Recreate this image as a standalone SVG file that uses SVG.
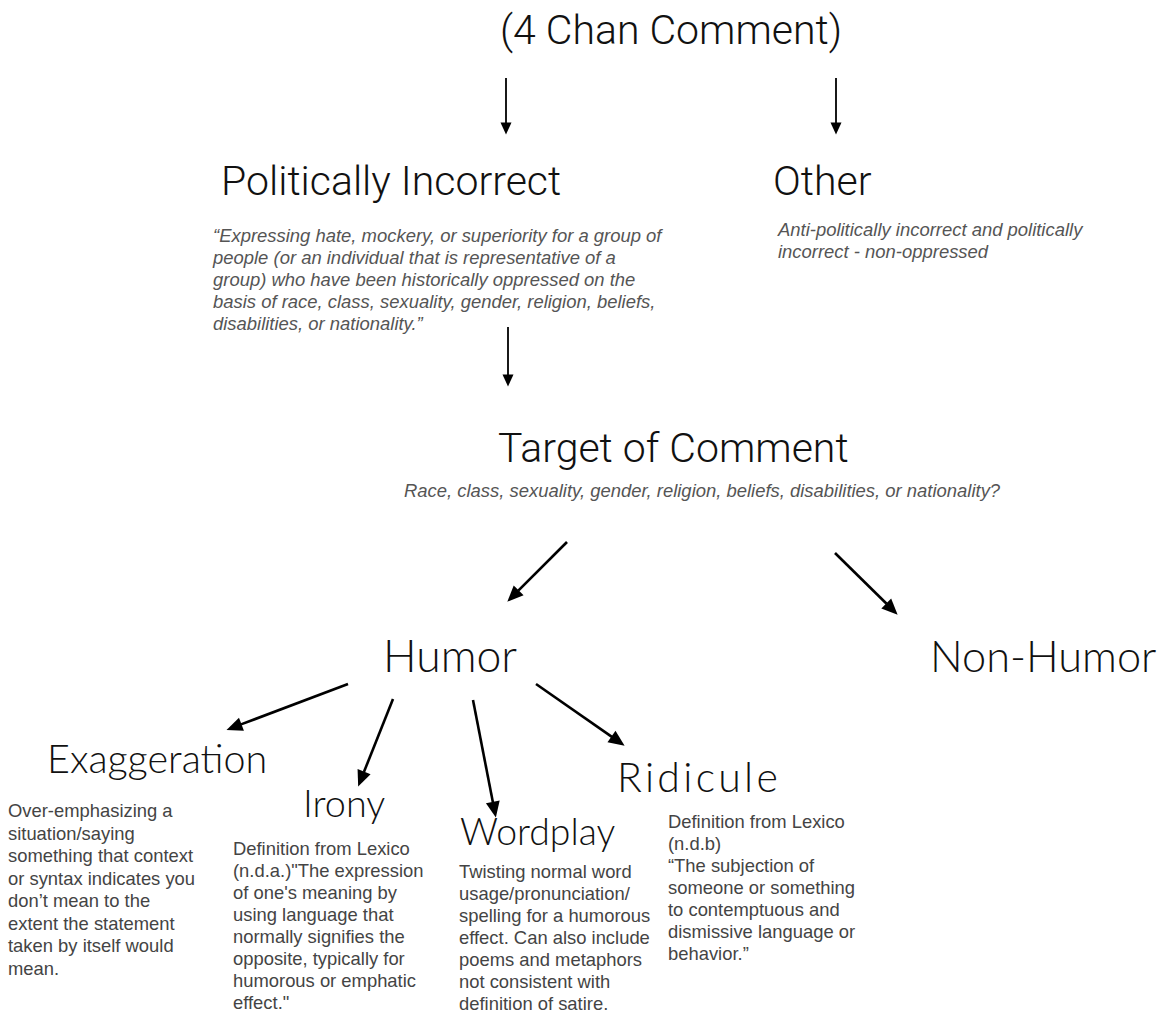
<svg xmlns="http://www.w3.org/2000/svg" width="1158" height="1016" viewBox="0 0 1158 1016">
<style>
.t1{font-family:Roboto,"Liberation Sans",sans-serif;font-weight:300;font-size:41px;fill:#111}
.t2{font-family:Lato,"Liberation Sans",sans-serif;font-weight:300;fill:#111}
.it{font-family:"Liberation Sans",Arial,sans-serif;font-style:italic;font-size:18.45px;fill:#555}
.bd{font-family:"Liberation Sans",Arial,sans-serif;font-size:18.4px;fill:#444}
.a1{stroke:#000;stroke-width:1.8;fill:none}
.a2{stroke:#000;stroke-width:2.6;fill:none}
</style>
<defs>
<marker id="h1" markerUnits="userSpaceOnUse" viewBox="0 -6 13 12" markerWidth="13" markerHeight="12" refX="0.5" refY="0" orient="auto" overflow="visible">
<path d="M0,-5.5 L12,0 L0,5.5 Z" fill="#000"/>
</marker>
<marker id="h2" markerUnits="userSpaceOnUse" viewBox="0 -8 17 16" markerWidth="17" markerHeight="16" refX="0.5" refY="0" orient="auto" overflow="visible">
<path d="M0,-7 L16,0 L0,7 Z" fill="#000"/>
</marker>
</defs>
<rect width="1158" height="1016" fill="#fff"/>
<g id="connectors">
<line class="a1" x1="506" y1="78" x2="506" y2="123" marker-end="url(#h1)"/>
<line class="a1" x1="836" y1="78" x2="836" y2="123" marker-end="url(#h1)"/>
<line class="a1" x1="508" y1="327" x2="508" y2="375" marker-end="url(#h1)"/>
<line class="a2" x1="567" y1="542" x2="518.3" y2="590.7" marker-end="url(#h2)"/>
<line class="a2" x1="835" y1="553" x2="886.6" y2="603.8" marker-end="url(#h2)"/>
<line class="a2" x1="348" y1="684" x2="241" y2="724.4" marker-end="url(#h2)"/>
<line class="a2" x1="393" y1="699" x2="363.9" y2="772.1" marker-end="url(#h2)"/>
<line class="a2" x1="473" y1="700" x2="492.9" y2="802.3" marker-end="url(#h2)"/>
<line class="a2" x1="536" y1="684" x2="611.9" y2="736.9" marker-end="url(#h2)"/>
</g>
<g id="chan">
<text class="t1" x="500" y="44" font-size="42">(4 Chan Comment)</text>
</g>
<g id="politically-incorrect">
<text class="t1" x="221" y="195" font-size="41.8">Politically Incorrect</text>
<text class="it">
<tspan x="213" y="242">“Expressing hate, mockery, or superiority for a group of</tspan>
<tspan x="213" y="264">people (or an individual that is representative of a</tspan>
<tspan x="213" y="286">group) who have been historically oppressed on the</tspan>
<tspan x="213" y="308">basis of race, class, sexuality, gender, religion, beliefs,</tspan>
<tspan x="213" y="330">disabilities, or nationality.”</tspan>
</text>
</g>
<g id="other">
<text class="t1" x="773" y="195">Other</text>
<text class="it">
<tspan x="778" y="236">Anti-politically incorrect and politically</tspan>
<tspan x="778" y="258">incorrect - non-oppressed</tspan>
</text>
</g>
<g id="target">
<text class="t1" x="498" y="462">Target of Comment</text>
<text class="it" x="404" y="497">Race, class, sexuality, gender, religion, beliefs, disabilities, or nationality?</text>
</g>
<g id="humor">
<text class="t2" x="383" y="672" font-size="44.5">Humor</text>
</g>
<g id="non-humor">
<text class="t2" x="930" y="672" font-size="43.3">Non-Humor</text>
</g>
<g id="exaggeration">
<text class="t2" x="47" y="773" font-size="39.5">Exaggeration</text>
<text class="bd">
<tspan x="8" y="817">Over-emphasizing a</tspan>
<tspan x="8" y="839.5">situation/saying</tspan>
<tspan x="8" y="862">something that context</tspan>
<tspan x="8" y="884.5">or syntax indicates you</tspan>
<tspan x="8" y="907">don’t mean to the</tspan>
<tspan x="8" y="929.5">extent the statement</tspan>
<tspan x="8" y="952">taken by itself would</tspan>
<tspan x="8" y="974.5">mean.</tspan>
</text>
</g>
<g id="irony">
<text class="t2" x="303" y="817" font-size="37.8">Irony</text>
<text class="bd">
<tspan x="233" y="855">Definition from Lexico</tspan>
<tspan x="233" y="877">(n.d.a.)"The expression</tspan>
<tspan x="233" y="899">of one's meaning by</tspan>
<tspan x="233" y="921">using language that</tspan>
<tspan x="233" y="943">normally signifies the</tspan>
<tspan x="233" y="965">opposite, typically for</tspan>
<tspan x="233" y="987">humorous or emphatic</tspan>
<tspan x="233" y="1009">effect."</tspan>
</text>
</g>
<g id="wordplay">
<text class="t2" x="460" y="845" font-size="37.4">Wordplay</text>
<text class="bd">
<tspan x="459" y="878">Twisting normal word</tspan>
<tspan x="459" y="900">usage/pronunciation/</tspan>
<tspan x="459" y="922">spelling for a humorous</tspan>
<tspan x="459" y="944">effect. Can also include</tspan>
<tspan x="459" y="966">poems and metaphors</tspan>
<tspan x="459" y="988">not consistent with</tspan>
<tspan x="459" y="1010">definition of satire.</tspan>
</text>
</g>
<g id="ridicule">
<text class="t2" x="617" y="792" font-size="41" letter-spacing="3.3">Ridicule</text>
<text class="bd">
<tspan x="668" y="828">Definition from Lexico</tspan>
<tspan x="668" y="850">(n.d.b)</tspan>
<tspan x="668" y="872">“The subjection of</tspan>
<tspan x="668" y="894">someone or something</tspan>
<tspan x="668" y="916">to contemptuous and</tspan>
<tspan x="668" y="938">dismissive language or</tspan>
<tspan x="668" y="960">behavior.”</tspan>
</text>
</g>
</svg>
